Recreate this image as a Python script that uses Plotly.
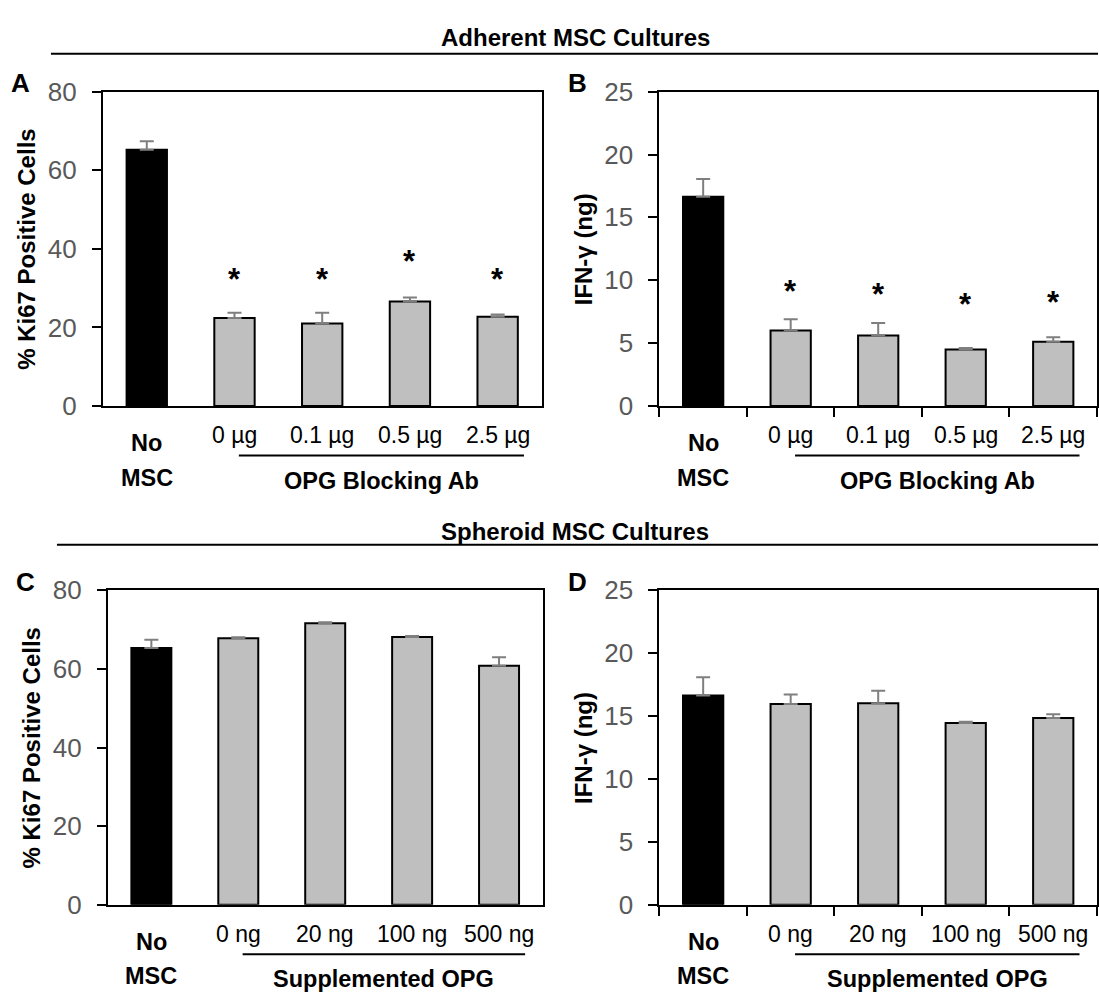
import plotly.graph_objects as go

W, H = 1099, 1007

# ---------------- data ----------------
groups_adherent = ["No MSC", "0 µg", "0.1 µg", "0.5 µg", "2.5 µg"]
groups_spheroid = ["No MSC", "0 ng", "20 ng", "100 ng", "500 ng"]

ki67_adherent = [65.2, 22.4, 21.0, 26.6, 22.7]
ki67_adherent_err = [2.2, 1.3, 2.7, 1.0, 0.6]
ifng_adherent = [16.65, 6.0, 5.6, 4.5, 5.1]
ifng_adherent_err = [1.4, 0.9, 1.0, 0.12, 0.36]

ki67_spheroid = [65.3, 67.8, 71.6, 68.1, 60.8]
ki67_spheroid_err = [2.1, 0.25, 0.3, 0.3, 2.2]
ifng_spheroid = [16.64, 15.95, 16.02, 14.45, 14.84]
ifng_spheroid_err = [1.44, 0.77, 1.0, 0.1, 0.31]

# significance asterisk heights (data units), None = no asterisk
sig_ki67_adherent = [None, 32.2, 32.2, 36.7, 32.2]
sig_ifng_adherent = [None, 9.1, 8.9, 8.1, 8.2]

ki67_ticks = [0, 20, 40, 60, 80]
ifng_ticks = [0, 5, 10, 15, 20, 25]

# ---------------- styling ----------------
FONT = "Liberation Sans, Arial, sans-serif"
GRAY_TXT = "#595959"
BAR_COLORS = ["#000000", "#bfbfbf", "#bfbfbf", "#bfbfbf", "#bfbfbf"]
YTICK_SIZE = 26
DOSE_SIZE = 23
BOLD_SIZE = 23.5


def px_x(px):
    return px / W


def px_y(py):
    return 1 - py / H


# panel pixel boxes: (left, right, top, bottom)
panels = {
    "A": dict(box=(103, 542, 79, 403), xa="x", ya="y"),
    "B": dict(box=(660, 1098, 79, 403), xa="x2", ya="y2"),
    "C": dict(box=(108, 543, 593, 917), xa="x3", ya="y3"),
    "D": dict(box=(660, 1098, 593, 917), xa="x4", ya="y4"),
}

fig = go.Figure()

specs = [
    ("A", groups_adherent, ki67_adherent, ki67_adherent_err, ki67_ticks, "% Ki67 Positive Cells",
     "OPG Blocking Ab", sig_ki67_adherent, False),
    ("B", groups_adherent, ifng_adherent, ifng_adherent_err, ifng_ticks, "IFN-γ (ng)",
     "OPG Blocking Ab", sig_ifng_adherent, True),
    ("C", groups_spheroid, ki67_spheroid, ki67_spheroid_err, ki67_ticks, "% Ki67 Positive Cells",
     "Supplemented OPG", None, False),
    ("D", groups_spheroid, ifng_spheroid, ifng_spheroid_err, ifng_ticks, "IFN-γ (ng)",
     "Supplemented OPG", None, True),
]

annotations = []
shapes = []
layout_axes = {}

for key, cats, vals, errs, yt, ytitle, grp, sig, xticks in specs:
    p = panels[key]
    l, r, t, b = p["box"]
    xa, ya = p["xa"], p["ya"]
    fig.add_trace(go.Bar(
        x=cats, y=vals, xaxis=xa, yaxis=ya,
        width=0.46,
        marker=dict(color=BAR_COLORS, line=dict(color="black", width=2)),
        error_y=dict(type="data", array=errs, arrayminus=[0] * len(errs), symmetric=False,
                     color="#7f7f7f", thickness=2, width=7),
        showlegend=False, hoverinfo="x+y",
    ))
    xname = "xaxis" + xa[1:]
    yname = "yaxis" + ya[1:]
    layout_axes[xname] = dict(
        domain=[px_x(l), px_x(r)], anchor=ya, type="category",
        categoryorder="array", categoryarray=cats, range=[-0.5, len(cats) - 0.5],
        showline=True, linecolor="black", linewidth=2, mirror=True,
        showgrid=False, zeroline=False, showticklabels=False,
        ticks="outside" if xticks else "", tickson="boundaries",
        ticklen=9, tickwidth=1.5, tickcolor="black", fixedrange=True,
    )
    layout_axes[yname] = dict(
        domain=[px_y(b), px_y(t)], anchor=xa, range=[yt[0], yt[-1]],
        tickvals=yt, ticks="outside", ticklen=9, tickwidth=1.5, tickcolor="black",
        ticklabelstandoff=10,
        tickfont=dict(family=FONT, size=YTICK_SIZE, color=GRAY_TXT),
        showline=True, linecolor="black", linewidth=2, mirror=True,
        showgrid=False, zeroline=False, fixedrange=True,
    )
    # y-axis title
    annotations.append(dict(
        text="<b>%s</b>" % ytitle, textangle=-90, xref="paper", yref="paper",
        x=px_x(l - 76), y=px_y((t + b) / 2), xanchor="center", yanchor="middle",
        showarrow=False, font=dict(family=FONT, size=24, color="black"),
    ))
    # panel letter
    annotations.append(dict(
        text="<b>%s</b>" % key, xref="paper", yref="paper",
        x=px_x(l - 82), y=px_y(t - 9), xanchor="center", yanchor="middle",
        showarrow=False, font=dict(family=FONT, size=26, color="black"),
    ))
    # category labels
    for i, c in enumerate(cats):
        if i == 0:
            first, second = c.split(" ")
            for txt, dy in ((first, 38), (second, 74)):
                annotations.append(dict(
                    text="<b>%s</b>" % txt, xref=xa, yref="paper", x=c, y=px_y(b + dy),
                    xanchor="center", yanchor="middle", showarrow=False,
                    font=dict(family=FONT, size=BOLD_SIZE, color="black"),
                ))
        else:
            annotations.append(dict(
                text=c, xref=xa, yref="paper", x=c, y=px_y(b + 30),
                xanchor="center", yanchor="middle", showarrow=False,
                font=dict(family=FONT, size=DOSE_SIZE, color="black"),
            ))
    # group underline + label
    shapes.append(dict(type="line", xref=xa, yref="paper", x0=1.05, x1=4.3,
                       y0=px_y(b + 51), y1=px_y(b + 51), line=dict(color="black", width=2)))
    annotations.append(dict(
        text="<b>%s</b>" % grp, xref=xa, yref="paper", x=2.675, y=px_y(b + 77),
        xanchor="center", yanchor="middle", showarrow=False,
        font=dict(family=FONT, size=BOLD_SIZE, color="black"),
    ))
    # significance asterisks
    if sig is not None:
        for c, s in zip(cats, sig):
            if s is None:
                continue
            annotations.append(dict(
                text="<b>*</b>", xref=xa, yref=ya, x=c, y=s,
                xanchor="center", yanchor="middle", showarrow=False,
                font=dict(family=FONT, size=31, color="black"),
            ))

# section titles and rules
for title, ty, ly, lx0 in (("Adherent MSC Cultures", 23, 40, 51),
                           ("Spheroid MSC Cultures", 532, 546, 57)):
    annotations.append(dict(
        text="<b>%s</b>" % title, xref="paper", yref="paper", x=px_x(576), y=px_y(ty),
        xanchor="center", yanchor="middle", showarrow=False,
        font=dict(family=FONT, size=24, color="black"),
    ))
    shapes.append(dict(type="line", xref="paper", yref="paper", x0=px_x(lx0), x1=1,
                       y0=px_y(ly), y1=px_y(ly), line=dict(color="black", width=2)))

fig.update_layout(
    width=W, height=H, margin=dict(l=0, r=0, t=0, b=0),
    paper_bgcolor="white", plot_bgcolor="white",
    bargap=0.54, annotations=annotations, shapes=shapes,
    **layout_axes,
)

fig.write_html("out.html")
